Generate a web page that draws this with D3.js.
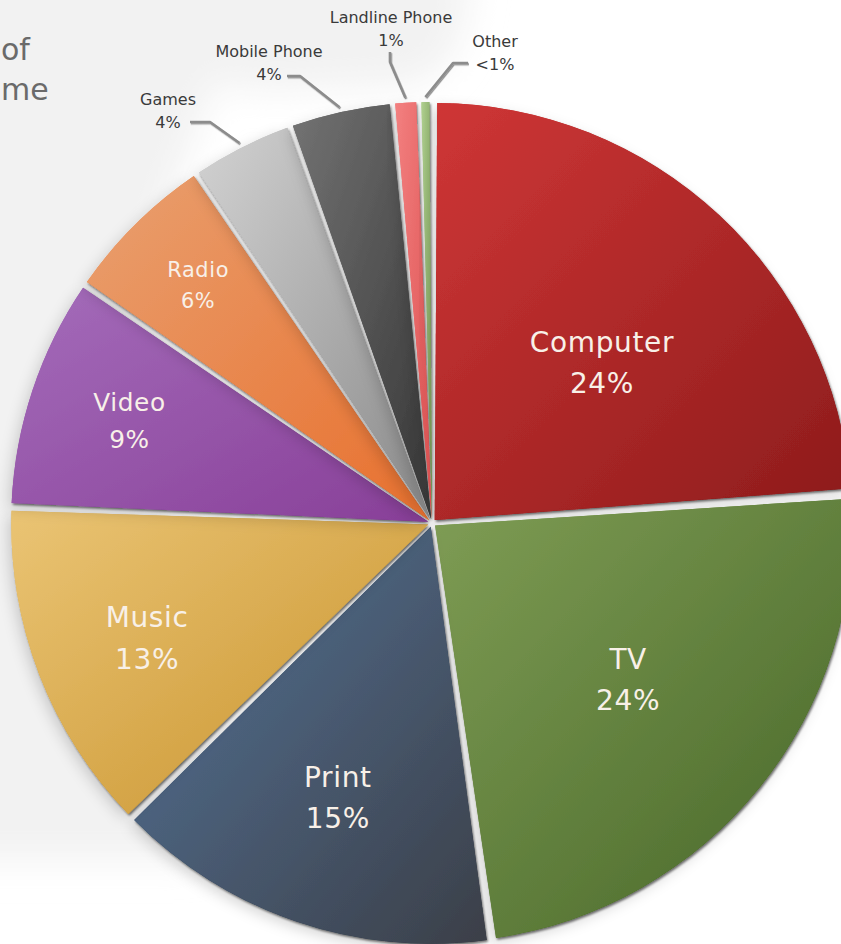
<!DOCTYPE html>
<html>
<head>
<meta charset="utf-8">
<script src="https://cdn.jsdelivr.net/npm/d3@7"></script>
<style>
  html, body { margin: 0; padding: 0; background: #ffffff; }
  svg { display: block; }
</style>
</head>
<body>
<div id="chart"></div>
<script>
// Share of media time by device
const categories = ["Computer", "TV", "Print", "Music", "Video", "Radio", "Games", "Mobile Phone", "Landline Phone", "Other"];
const shares = [24, 24, 15, 13, 9, 6, 4, 4, 1, 0.5];
const shareLabels = ["24%", "24%", "15%", "13%", "9%", "6%", "4%", "4%", "1%", "<1%"];
const titleLines = ["of", "me"];

// Slice fills: light corner (top-left) to dark corner (bottom-right)
const sliceColors = {
  "Computer":       ["#cf3636", "#8c1b1b"],
  "TV":             ["#7f9d55", "#466527"],
  "Print":          ["#55759a", "#3b3f48"],
  "Music":          ["#eac474", "#c8922c"],
  "Video":          ["#a46cba", "#883f98"],
  "Radio":          ["#e9a070", "#e8702e"],
  "Games":          ["#d2d2d2", "#8a8a8a"],
  "Mobile Phone":   ["#737373", "#363636"],
  "Landline Phone": ["#f38080", "#dc5050"],
  "Other":          ["#b0d090", "#6b8c4a"]
};

// Small nudges for the in-slice labels
const labelNudge = {
  "Computer": [-2, 26],
  "Music": [-4, 9]
};

// Callouts for the thin slices: text anchor and leader elbow/end
const callouts = {
  "Games":          { tx: 168, ty: 105, elbow: [210, 122], end: [190, 122] },
  "Mobile Phone":   { tx: 269, ty: 57,  elbow: [300, 76],  end: [287, 76] },
  "Landline Phone": { tx: 391, ty: 23,  elbow: [390, 62],  end: [390, 52] },
  "Other":          { tx: 495, ty: 47,  elbow: [453, 63],  end: [468, 63] }
};

const W = 841, H = 944;
const cx = 432, cy = 523, R = 417;
const FONT = "'DejaVu Sans', 'Liberation Sans', sans-serif";

const svg = d3.select("#chart").append("svg")
  .attr("width", W).attr("height", H)
  .attr("viewBox", `0 0 ${W} ${H}`);

const defs = svg.append("defs");

// soft backdrop
const bgBlur = defs.append("filter").attr("id", "bgBlur")
  .attr("x", "-50%").attr("y", "-50%").attr("width", "200%").attr("height", "200%");
bgBlur.append("feGaussianBlur").attr("stdDeviation", 18);

const sliceShadow = defs.append("filter").attr("id", "sliceShadow")
  .attr("x", "-20%").attr("y", "-20%").attr("width", "140%").attr("height", "140%");
sliceShadow.append("feDropShadow")
  .attr("dx", -4).attr("dy", 5).attr("stdDeviation", 7)
  .attr("flood-color", "#000").attr("flood-opacity", 0.16).attr("result", "soft");
sliceShadow.append("feDropShadow")
  .attr("in", "SourceGraphic")
  .attr("dx", 1.2).attr("dy", 1.8).attr("stdDeviation", 0.9)
  .attr("flood-color", "#000").attr("flood-opacity", 0.55).attr("result", "hard");
const m = sliceShadow.append("feMerge");
m.append("feMergeNode").attr("in", "soft");
m.append("feMergeNode").attr("in", "hard");

const lineShadow = defs.append("filter").attr("id", "lineShadow")
  .attr("x", "-30%").attr("y", "-30%").attr("width", "160%").attr("height", "160%");
lineShadow.append("feDropShadow")
  .attr("dx", 0.8).attr("dy", 1.2).attr("stdDeviation", 0.6)
  .attr("flood-color", "#000").attr("flood-opacity", 0.45);

categories.forEach((c, i) => {
  const g = defs.append("linearGradient").attr("id", "grad" + i)
    .attr("x1", "0%").attr("y1", "0%").attr("x2", "100%").attr("y2", "100%");
  g.append("stop").attr("offset", "0%").attr("stop-color", sliceColors[c][0]);
  g.append("stop").attr("offset", "100%").attr("stop-color", sliceColors[c][1]);
});

// Background shapes
const bg = svg.append("g").attr("filter", "url(#bgBlur)");
bg.append("path")
  .attr("d", "M-60,-40 L250,-40 C230,120 120,200 150,420 C170,620 240,740 200,860 L-60,860 Z")
  .attr("fill", "#f2f2f2");
bg.append("path")
  .attr("d", "M200,-40 L470,-40 C470,40 450,80 400,85 L270,90 C210,90 185,60 185,20 Z")
  .attr("fill", "#f2f2f2");

// Title fragment at the left edge
const title = svg.append("g").attr("font-family", FONT).attr("fill", "#6a6a6a")
  .attr("font-size", 30);
title.append("text").attr("x", 1).attr("y", 60).text(titleLines[0]);
title.append("text").attr("x", 1).attr("y", 100).text(titleLines[1]);

// Pie
const data = categories.map((c, i) => ({ name: c, value: shares[i], label: shareLabels[i], idx: i }));
const pie = d3.pie().value(d => d.value).sort(null).startAngle(0).endAngle(2 * Math.PI);
const arcs = pie(data);

const arc = d3.arc().innerRadius(0).outerRadius(R).padAngle(0.012).padRadius(R);
const explode = 4;

const pieG = svg.append("g").attr("transform", `translate(${cx},${cy})`);

pieG.selectAll("path.slice")
  .data(arcs)
  .join("path")
  .attr("class", "slice")
  .attr("d", arc)
  .attr("fill", d => `url(#grad${d.data.idx})`)
  .attr("filter", "url(#sliceShadow)")
  .attr("transform", d => {
    const a = (d.startAngle + d.endAngle) / 2;
    return `translate(${explode * Math.sin(a)},${-explode * Math.cos(a)})`;
  });

// Labels inside the wide slices
const inside = arcs.filter(d => d.endAngle - d.startAngle > 0.3);
const labG = pieG.append("g").attr("font-family", FONT).attr("fill", "#f8f0e8")
  .attr("text-anchor", "middle").attr("letter-spacing", "0.04em");
inside.forEach(d => {
  const span = d.endAngle - d.startAngle;
  const a = (d.startAngle + d.endAngle) / 2;
  const r = R * (0.86 - 0.17 * span);
  const fs = Math.min(28, 13 + 21 * span);
  const nudge = labelNudge[d.data.name] || [0, 0];
  const x = r * Math.sin(a) + nudge[0], y = -r * Math.cos(a) + nudge[1] - 2;
  const gap = fs * 1.48;
  labG.append("text").attr("x", x).attr("y", y - gap / 2 + fs * 0.36)
    .attr("font-size", fs).text(d.data.name);
  labG.append("text").attr("x", x).attr("y", y + gap / 2 + fs * 0.36)
    .attr("font-size", fs).text(d.data.label);
});

// Callouts for the thin slices
const outside = arcs.filter(d => d.endAngle - d.startAngle <= 0.3);
const callG = svg.append("g");
outside.forEach(d => {
  const c = callouts[d.data.name];
  const a = (d.startAngle + d.endAngle) / 2;
  const rr = R + 9;
  const p0 = [cx + rr * Math.sin(a), cy - rr * Math.cos(a)];
  callG.append("path")
    .attr("d", d3.line()([p0, c.elbow, c.end]))
    .attr("fill", "none").attr("stroke", "#8c8c8c").attr("stroke-width", 2.6)
    .attr("stroke-linejoin", "round")
    .attr("filter", "url(#lineShadow)");
  const t = callG.append("g").attr("font-family", FONT).attr("fill", "#3a3a3a")
    .attr("font-size", 16).attr("text-anchor", "middle");
  t.append("text").attr("x", c.tx).attr("y", c.ty).text(d.data.name);
  t.append("text").attr("x", c.tx).attr("y", c.ty + 23).text(d.data.label);
});
</script>
</body>
</html>
